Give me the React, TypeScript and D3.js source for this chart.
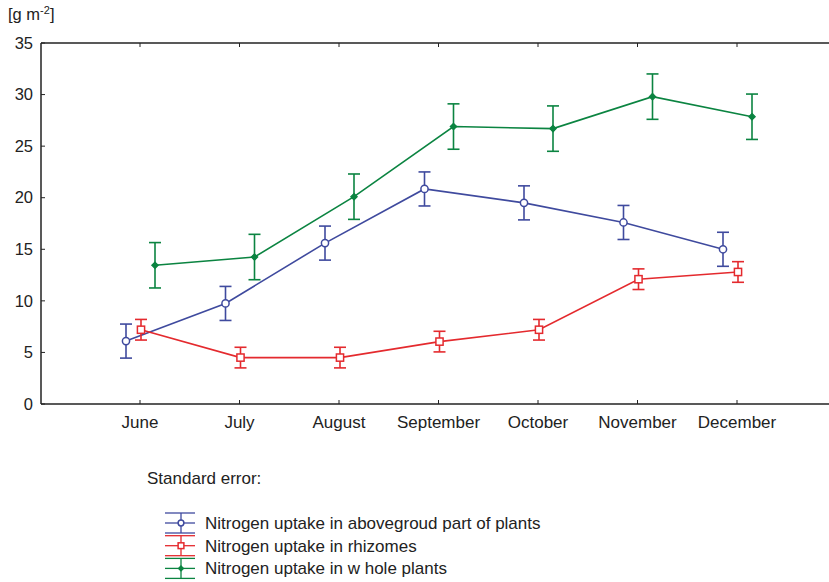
import React from "react";
import * as d3 from "d3";

const months = ["June", "July", "August", "September", "October", "November", "December"];
const yTicks = [0, 5, 10, 15, 20, 25, 30, 35];

const aboveground = [6.1, 9.75, 15.6, 20.85, 19.5, 17.6, 15.0];
const abovegroundSE = [1.65, 1.65, 1.65, 1.65, 1.65, 1.65, 1.65];
const rhizomes = [7.2, 4.5, 4.5, 6.05, 7.2, 12.1, 12.8];
const rhizomesSE = [1.0, 1.0, 1.0, 1.0, 1.0, 1.0, 1.0];
const wholePlants = [13.45, 14.25, 20.1, 26.9, 26.7, 29.8, 27.85];
const wholePlantsSE = [2.2, 2.2, 2.2, 2.2, 2.2, 2.2, 2.2];

const seriesNames = [
  "Nitrogen uptake in abovegroud part of plants",
  "Nitrogen uptake in rhizomes",
  "Nitrogen uptake in w hole plants",
];

const BLUE = "#3f4a9e";
const RED = "#e42a2e";
const GREEN = "#0b8441";
const FONT = "'Liberation Sans', Arial, sans-serif";

type Series = {
  name: string;
  values: number[];
  se: number[];
  color: string;
  offset: number;
  marker: "circle" | "square" | "diamond";
};

const series: Series[] = [
  { name: seriesNames[0], values: aboveground, se: abovegroundSE, color: BLUE, offset: -14, marker: "circle" },
  { name: seriesNames[1], values: rhizomes, se: rhizomesSE, color: RED, offset: 1, marker: "square" },
  { name: seriesNames[2], values: wholePlants, se: wholePlantsSE, color: GREEN, offset: 15, marker: "diamond" },
];

const left = 41;
const right = 829;
const top = 43;
const bottom = 404;

function Marker({ kind, x, y, color, size = 1 }: { kind: string; x: number; y: number; color: string; size?: number }) {
  if (kind === "circle") {
    return <circle cx={x} cy={y} r={3.6 * size} fill="white" stroke={color} strokeWidth={1.5} />;
  }
  if (kind === "square") {
    const h = 3.6 * size;
    return <rect x={x - h} y={y - h} width={2 * h} height={2 * h} fill="white" stroke={color} strokeWidth={1.5} />;
  }
  const s = 3.2 * size;
  return (
    <path
      d={`M${x},${y - s}L${x + s},${y}L${x},${y + s}L${x - s},${y}Z`}
      fill={color}
      stroke={color}
      strokeWidth={1.2}
    />
  );
}

export default function App() {
  const x = d3.scalePoint<string>().domain(months).range([140, 737]);
  const y = d3.scaleLinear().domain([0, 35]).range([bottom, top]);

  return (
    <svg
      width={829}
      height={582}
      style={{ position: "absolute", left: 0, top: 0, background: "white" }}
      fontFamily={FONT}
    >
      <rect width={829} height={582} fill="white" />
      {/* frame */}
      <line x1={left} x2={right} y1={top} y2={top} stroke="#222" strokeWidth={1.5} />
      <line x1={left} x2={right} y1={bottom} y2={bottom} stroke="#222" strokeWidth={1.5} />
      <line x1={left} x2={left} y1={top} y2={bottom} stroke="#222" strokeWidth={1.5} />

      {/* y ticks */}
      {yTicks.map((t) => (
        <g key={t}>
          <line x1={left} x2={left + 4} y1={y(t)} y2={y(t)} stroke="#222" strokeWidth={1} />
          <text x={33} y={y(t)} dy="0.35em" textAnchor="end" fontSize={16.5} fill="#222">
            {t}
          </text>
        </g>
      ))}
      <text x={8} y={20} fontSize={16.5} fill="#222">
        [g m
        <tspan dy={-6} fontSize={11}>-2</tspan>
        <tspan dy={6}>]</tspan>
      </text>

      {/* x ticks */}
      {months.map((m) => (
        <g key={m}>
          <line x1={x(m)!} x2={x(m)!} y1={bottom} y2={bottom - 4} stroke="#222" strokeWidth={1} />
          <line x1={x(m)!} x2={x(m)!} y1={top} y2={top + 4} stroke="#222" strokeWidth={1} />
          <text x={x(m)!} y={428} textAnchor="middle" fontSize={17} fill="#222">
            {m}
          </text>
        </g>
      ))}

      {/* series */}
      {series.map((s) => {
        const px = (i: number) => x(months[i])! + s.offset;
        const path = d3
          .line<number>()
          .x((_, i) => px(i))
          .y((d) => y(d))(s.values);
        return (
          <g key={s.name}>
            <path d={path ?? ""} fill="none" stroke={s.color} strokeWidth={1.6} />
            {s.values.map((v, i) => {
              const hi = y(v + s.se[i]);
              const lo = y(v - s.se[i]);
              const cx = px(i);
              return (
                <g key={i} stroke={s.color} strokeWidth={1.6}>
                  <line x1={cx} x2={cx} y1={hi} y2={lo} />
                  <line x1={cx - 6} x2={cx + 6} y1={hi} y2={hi} />
                  <line x1={cx - 6} x2={cx + 6} y1={lo} y2={lo} />
                </g>
              );
            })}
            {s.values.map((v, i) => (
              <Marker key={i} kind={s.marker} x={px(i)} y={y(v)} color={s.color} />
            ))}
          </g>
        );
      })}

      {/* legend */}
      <text x={147} y={484} fontSize={17} fill="#222">
        Standard error:
      </text>
      {series.map((s, i) => {
        const cy = 523 + i * 22.7;
        return (
          <g key={s.name}>
            <g stroke={s.color} strokeWidth={1.3}>
              <line x1={165} x2={195} y1={cy - 10} y2={cy - 10} />
              <line x1={165} x2={195} y1={cy} y2={cy} />
              <line x1={165} x2={195} y1={cy + 10} y2={cy + 10} />
              <line x1={181} x2={181} y1={cy - 10} y2={cy + 10} />
            </g>
            <Marker kind={s.marker} x={181} y={cy} color={s.color} size={0.8} />
            <text x={205} y={cy} dy="0.35em" fontSize={17} fill="#222">
              {s.name}
            </text>
          </g>
        );
      })}
    </svg>
  );
}
